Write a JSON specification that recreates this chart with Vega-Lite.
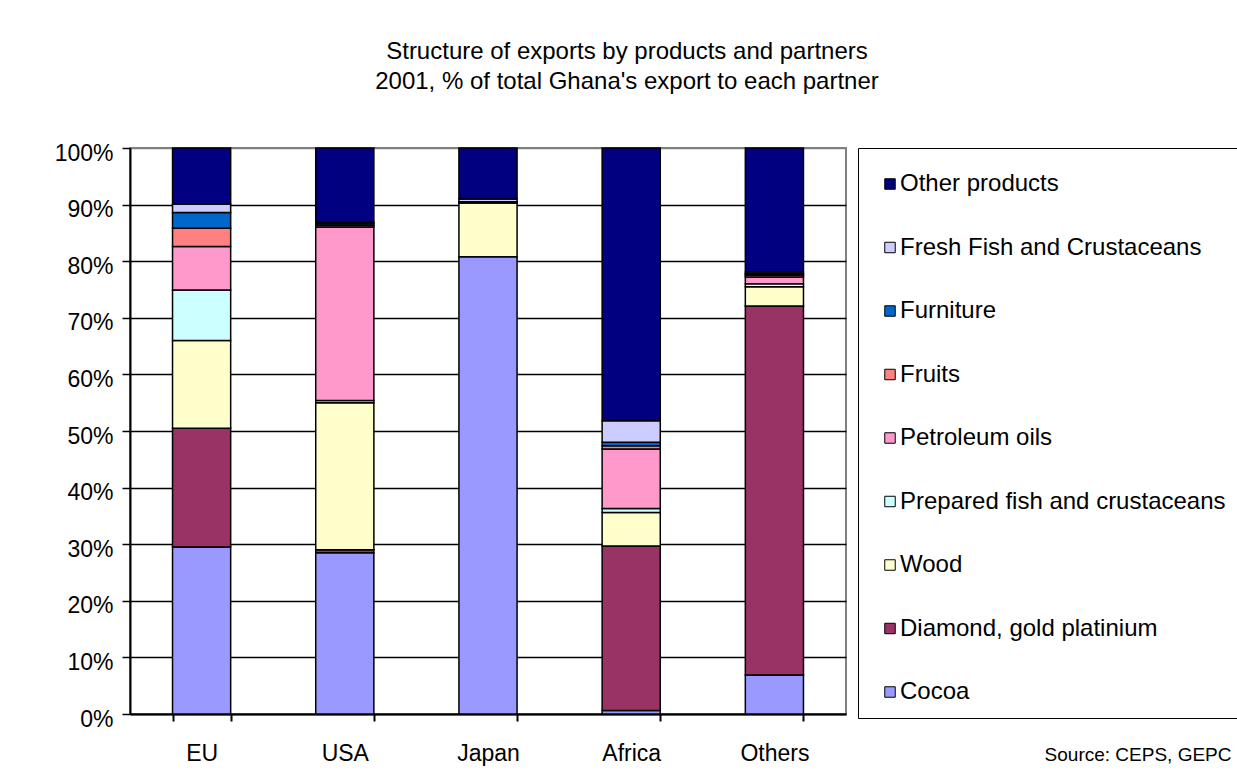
{
  "$schema": "https://vega.github.io/schema/vega-lite/v6.json",
  "autosize": {"type": "none"},
  "padding": {"left": 130, "top": 148, "right": 391, "bottom": 61},
  "width": 716,
  "height": 566,
  "background": "white",
  "title": {
    "text": ["Structure of exports by products and partners", "2001, % of total Ghana's export to each partner"],
    "font": "Liberation Sans",
    "fontSize": 24,
    "fontWeight": "normal",
    "lineHeight": 30,
    "color": "black",
    "anchor": "middle",
    "frame": "group",
    "dx": 139,
    "offset": 48
  },
  "data": {
    "values": [
      {"partner": "EU", "product": "Cocoa", "rank": 1, "value": 29.5},
      {"partner": "EU", "product": "Diamond, gold platinium", "rank": 2, "value": 21.0},
      {"partner": "EU", "product": "Wood", "rank": 3, "value": 15.5},
      {"partner": "EU", "product": "Prepared fish and crustaceans", "rank": 4, "value": 8.9},
      {"partner": "EU", "product": "Petroleum oils", "rank": 5, "value": 7.7},
      {"partner": "EU", "product": "Fruits", "rank": 6, "value": 3.2},
      {"partner": "EU", "product": "Furniture", "rank": 7, "value": 2.8},
      {"partner": "EU", "product": "Fresh Fish and Crustaceans", "rank": 8, "value": 1.5},
      {"partner": "EU", "product": "Other products", "rank": 9, "value": 9.9},
      {"partner": "USA", "product": "Cocoa", "rank": 1, "value": 28.5},
      {"partner": "USA", "product": "Diamond, gold platinium", "rank": 2, "value": 0.5},
      {"partner": "USA", "product": "Wood", "rank": 3, "value": 26.0},
      {"partner": "USA", "product": "Prepared fish and crustaceans", "rank": 4, "value": 0.4},
      {"partner": "USA", "product": "Petroleum oils", "rank": 5, "value": 30.6},
      {"partner": "USA", "product": "Fruits", "rank": 6, "value": 0.3},
      {"partner": "USA", "product": "Furniture", "rank": 7, "value": 0.3},
      {"partner": "USA", "product": "Fresh Fish and Crustaceans", "rank": 8, "value": 0.3},
      {"partner": "USA", "product": "Other products", "rank": 9, "value": 13.1},
      {"partner": "Japan", "product": "Cocoa", "rank": 1, "value": 80.8},
      {"partner": "Japan", "product": "Wood", "rank": 3, "value": 9.5},
      {"partner": "Japan", "product": "Prepared fish and crustaceans", "rank": 4, "value": 0.2},
      {"partner": "Japan", "product": "Fresh Fish and Crustaceans", "rank": 8, "value": 0.5},
      {"partner": "Japan", "product": "Other products", "rank": 9, "value": 9.0},
      {"partner": "Africa", "product": "Cocoa", "rank": 1, "value": 0.6},
      {"partner": "Africa", "product": "Diamond, gold platinium", "rank": 2, "value": 29.1},
      {"partner": "Africa", "product": "Wood", "rank": 3, "value": 5.9},
      {"partner": "Africa", "product": "Prepared fish and crustaceans", "rank": 4, "value": 0.7},
      {"partner": "Africa", "product": "Petroleum oils", "rank": 5, "value": 10.5},
      {"partner": "Africa", "product": "Fruits", "rank": 6, "value": 0.6},
      {"partner": "Africa", "product": "Furniture", "rank": 7, "value": 0.6},
      {"partner": "Africa", "product": "Fresh Fish and Crustaceans", "rank": 8, "value": 3.8},
      {"partner": "Africa", "product": "Other products", "rank": 9, "value": 48.2},
      {"partner": "Others", "product": "Cocoa", "rank": 1, "value": 6.9},
      {"partner": "Others", "product": "Diamond, gold platinium", "rank": 2, "value": 65.2},
      {"partner": "Others", "product": "Wood", "rank": 3, "value": 3.4},
      {"partner": "Others", "product": "Prepared fish and crustaceans", "rank": 4, "value": 0.5},
      {"partner": "Others", "product": "Petroleum oils", "rank": 5, "value": 1.2},
      {"partner": "Others", "product": "Fruits", "rank": 6, "value": 0.3},
      {"partner": "Others", "product": "Furniture", "rank": 7, "value": 0.3},
      {"partner": "Others", "product": "Fresh Fish and Crustaceans", "rank": 8, "value": 0.3},
      {"partner": "Others", "product": "Other products", "rank": 9, "value": 21.9}
    ]
  },
  "mark": {"type": "bar", "stroke": "black", "strokeWidth": 1.5},
  "encoding": {
    "x": {
      "field": "partner",
      "type": "nominal",
      "sort": ["EU", "USA", "Japan", "Africa", "Others"],
      "scale": {"paddingInner": 0.594, "paddingOuter": 0.297},
      "axis": {
        "title": "Source: CEPS, GEPC",
        "titleFont": "Liberation Sans",
        "titleFontSize": 19,
        "titleFontWeight": "normal",
        "titleColor": "black",
        "titleAnchor": "start",
        "titleAlign": "right",
        "titleBaseline": "alphabetic",
        "titleX": 1101,
        "titleY": 46,
        "labelAngle": 0,
        "labelFont": "Liberation Sans",
        "labelFontSize": 23,
        "labelColor": "black",
        "labelPadding": 21,
        "tickBand": "extent",
        "tickSize": 7,
        "tickColor": "black",
        "tickWidth": 2,
        "domainColor": "black",
        "domainWidth": 2,
        "grid": false
      }
    },
    "y": {
      "field": "value",
      "type": "quantitative",
      "stack": "normalize",
      "scale": {"domain": [0, 1]},
      "axis": {
        "title": null,
        "format": ".0%",
        "values": [0, 0.1, 0.2, 0.3, 0.4, 0.5, 0.6, 0.7, 0.8, 0.9, 1],
        "labelFont": "Liberation Sans",
        "labelFontSize": 23,
        "labelColor": "black",
        "labelPadding": 9,
        "labelOffset": 5,
        "tickSize": 8,
        "tickColor": "black",
        "tickWidth": 1.5,
        "domainColor": "black",
        "domainWidth": 2,
        "grid": true,
        "gridColor": {"condition": {"test": "datum.value === 1", "value": "#808080"}, "value": "black"},
        "gridWidth": 1.3
      }
    },
    "color": {
      "field": "product",
      "type": "nominal",
      "scale": {
        "domain": ["Other products", "Fresh Fish and Crustaceans", "Furniture", "Fruits", "Petroleum oils", "Prepared fish and crustaceans", "Wood", "Diamond, gold platinium", "Cocoa"],
        "range": ["#000080", "#CCCCFF", "#0066CC", "#FF8080", "#FF99CC", "#CCFFFF", "#FFFFCC", "#993366", "#9999FF"]
      },
      "legend": {
        "title": " ",
        "titleFontSize": 4,
        "titlePadding": 6,
        "orient": "none",
        "legendX": 728,
        "legendY": 0,
        "direction": "vertical",
        "padding": 14,
        "strokeColor": "black",
        "fillColor": "white",
        "symbolType": "square",
        "symbolSize": 110,
        "symbolStrokeColor": "black",
        "symbolStrokeWidth": 1,
        "symbolOpacity": 1,
        "symbolOffset": 6,
        "labelOffset": -2,
        "labelFont": "Liberation Sans",
        "labelFontSize": 24,
        "labelColor": "black",
        "labelLimit": 500,
        "rowPadding": 39.5
      }
    },
    "order": {"field": "rank", "type": "quantitative", "sort": "ascending"}
  },
  "config": {
    "view": {"stroke": "#808080", "strokeWidth": 2}
  }
}
